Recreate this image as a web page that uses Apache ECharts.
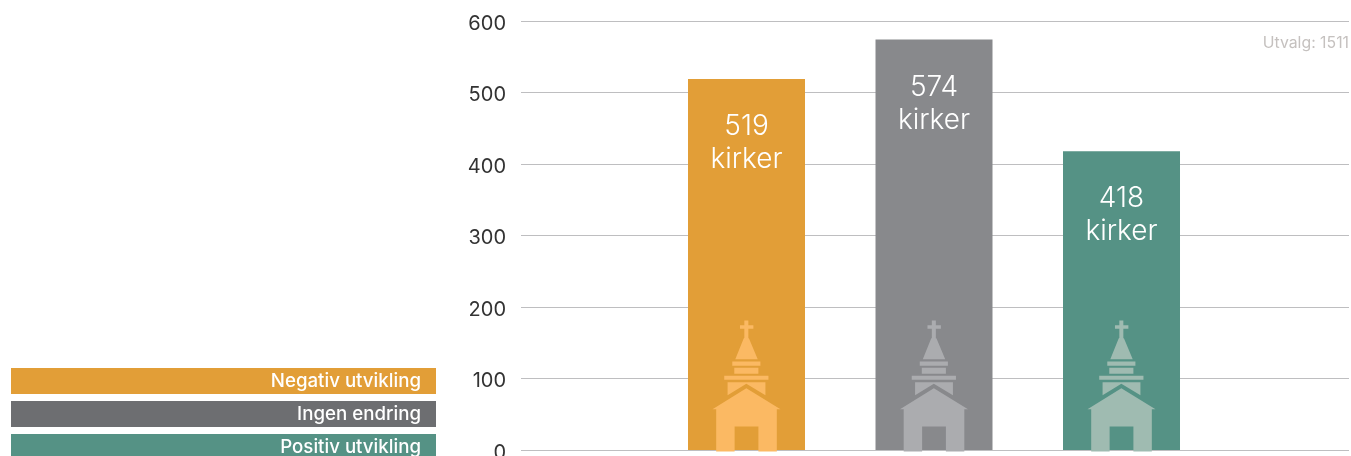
<!DOCTYPE html>
<html><head><meta charset="utf-8">
<style>html,body{margin:0;padding:0;background:#fff;overflow:hidden}#c{width:1351px;height:456px}</style>
<script src="https://cdn.jsdelivr.net/npm/echarts@6/dist/echarts.min.js"></script></head>
<body><div id="c"></div>
<script>
const categories = ['Negativ utvikling', 'Ingen endring', 'Positiv utvikling'];
const values = [519, 574, 418];
const unit = 'kirker';
const barColors = ['#E29E37', '#88898C', '#559285'];
const churchColors = ['#FBB963', '#ABACAF', '#9FBBB1'];
const legendColors = ['#E29E37', '#6D6E71', '#559285'];
const note = 'Utvalg: 1511';
const FONT = 'Inter, sans-serif';

const church = 'path://' +
  'M192 32H204V46H219V57H204V85H192V57H179V46H192Z' +
  'M198 80L206 86L232 148H165L190 86Z' +
  'M156 155H240V168H156Z' +
  'M162 174H234V192H162Z' +
  'M132 198H264V210H132Z' +
  'M142 217H255V256L198 222L142 256Z' +
  'M198 235L300 298H289V425H234V350H163V425H108V298H97Z';

const chart = echarts.init(document.getElementById('c'), null, {renderer: 'canvas'});
const legendItems = [];
categories.forEach((name, i) => {
  const top = 368 + i * 33;
  legendItems.push({type: 'rect', shape: {x: 11, y: top, width: 425, height: 26}, style: {fill: legendColors[i]}, silent: true});
  legendItems.push({type: 'text', style: {x: 421, y: top + 13, text: name, fill: '#fff', font: '500 18.7px ' + FONT, align: 'right', verticalAlign: 'middle'}, silent: true});
});
legendItems.push({type: 'text', style: {x: 1349, y: 43, text: note, fill: '#C5C1BF', font: '15.8px ' + FONT, align: 'right', verticalAlign: 'middle'}, silent: true});

chart.setOption({
  animation: false,
  grid: {left: 521, right: 2, top: 21, height: 429, containLabel: false, outerBoundsMode: 'none'},
  xAxis: {type: 'value', min: -1.2027, max: 3.2133, show: false},
  yAxis: {
    type: 'value', min: 0, max: 600, interval: 100,
    axisLine: {show: false}, axisTick: {show: false},
    axisLabel: {margin: 15, fontFamily: FONT, fontSize: 20, color: '#333', verticalAlign: 'top', lineHeight: 5},
    splitLine: {lineStyle: {color: '#BEBEC0', width: 1}}
  },
  series: [
    {
      type: 'bar', barWidth: 117, z: 2,
      data: values.map((v, i) => ({value: [i, v], itemStyle: {color: barColors[i]}})),
      label: {
        show: true, position: 'insideTop', distance: 31,
        formatter: p => p.value[1] + '\n' + unit,
        color: '#fff', fontFamily: FONT, fontWeight: 300, fontSize: 28, lineHeight: 33
      }
    },
    {
      type: 'scatter', z: 3, silent: true, clip: false,
      symbol: church, symbolSize: [68, 131], symbolOffset: [0, -64],
      data: values.map((v, i) => ({value: [i, 0], itemStyle: {color: churchColors[i], opacity: 1}}))
    }
  ],
  graphic: legendItems
});
</script></body></html>
